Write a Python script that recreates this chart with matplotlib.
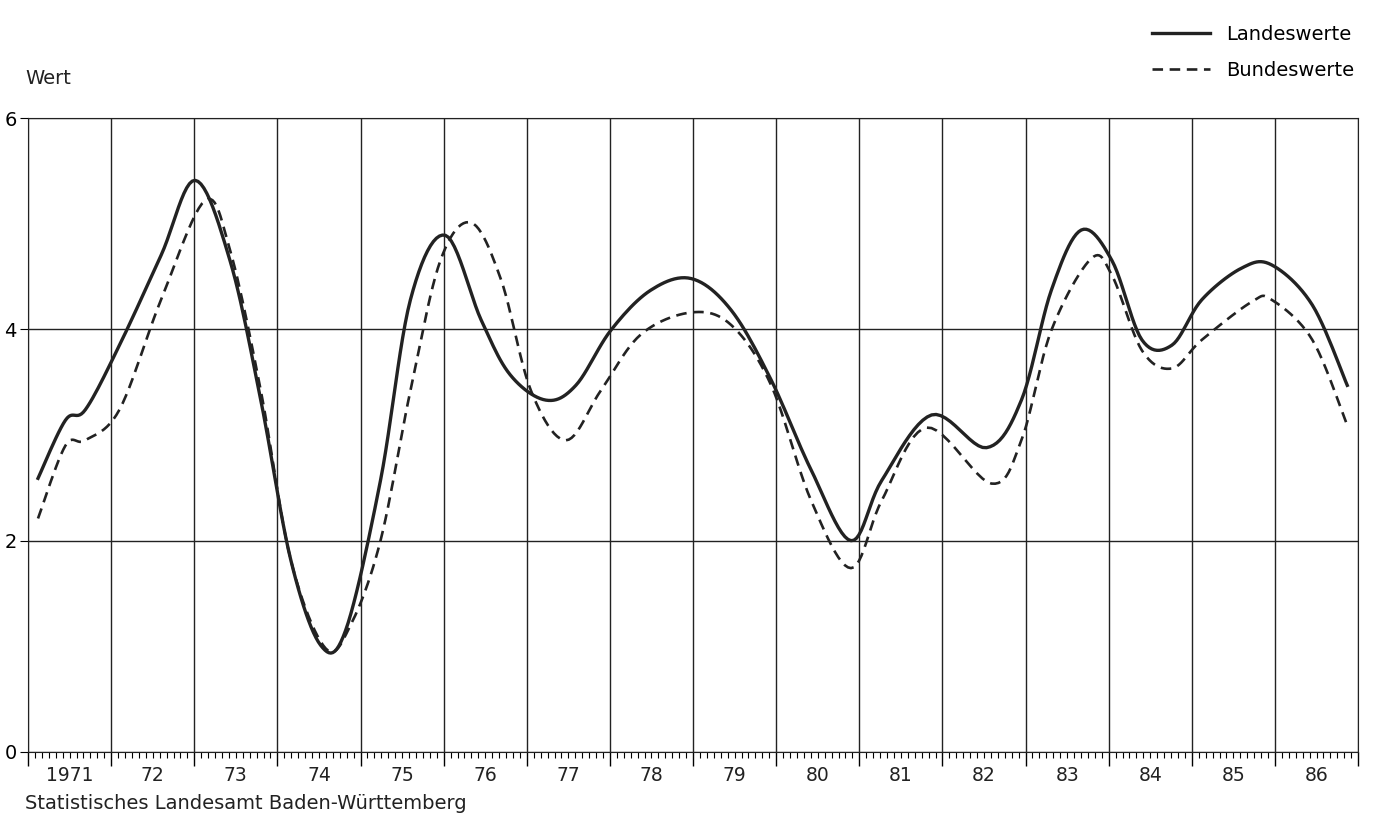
import numpy as np
import matplotlib.pyplot as plt

# (year as decimal, value)
land_t = [1971.12, 1971.45, 1971.69, 1972.1, 1972.6, 1973.01, 1973.43, 1973.8, 1974.16, 1974.52,
          1974.82, 1975.24, 1975.6, 1976.02, 1976.45, 1976.8, 1977.23, 1977.59, 1978.01, 1978.49,
          1978.98, 1979.46, 1979.94, 1980.42, 1980.9, 1981.27, 1981.87, 1982.53, 1982.95, 1983.31,
          1983.67, 1984.04, 1984.4, 1984.76, 1985.12, 1985.6, 1985.96, 1986.45, 1986.87]
land_v = [2.59, 3.14, 3.24, 3.85, 4.70, 5.41, 4.65, 3.33, 1.82, 1.01,
          1.15, 2.57, 4.28, 4.89, 4.09, 3.57, 3.33, 3.47, 3.99, 4.37,
          4.48, 4.18, 3.52, 2.67, 2.00, 2.57, 3.19, 2.88, 3.33, 4.37,
          4.94, 4.65, 3.90, 3.85, 4.28, 4.58, 4.61, 4.23, 3.47]

bund_t = [1971.12, 1971.45, 1971.69, 1972.1, 1972.6, 1973.13, 1973.43, 1973.8, 1974.16, 1974.58,
          1974.88, 1975.24, 1975.6, 1975.96, 1976.33, 1976.69, 1977.05, 1977.47, 1977.89, 1978.37,
          1978.98, 1979.46, 1979.94, 1980.42, 1980.9, 1981.27, 1981.81, 1982.59, 1982.95, 1983.31,
          1983.79, 1984.04, 1984.4, 1984.76, 1985.12, 1985.72, 1985.96, 1986.45, 1986.87]
bund_v = [2.21, 2.90, 2.95, 3.24, 4.28, 5.22, 4.75, 3.42, 1.82, 0.98,
          1.20, 2.00, 3.42, 4.65, 5.01, 4.47, 3.42, 2.95, 3.42, 3.95,
          4.16, 4.04, 3.47, 2.38, 1.74, 2.38, 3.07, 2.54, 2.95, 3.99,
          4.67, 4.51, 3.80, 3.63, 3.90, 4.26, 4.28, 3.90, 3.09]

year_labels = ['1971'] + [str(y) for y in range(72, 87)]


def smooth(t, v, n=12):
    # Catmull-Rom curve through the read points
    t = np.asarray(t); v = np.asarray(v)
    P = np.column_stack([t, v])
    P = np.vstack([P[0], P, P[-1]])
    out = []
    s = np.linspace(0, 1, n, endpoint=False)[:, None]
    for i in range(1, len(P) - 2):
        p0, p1, p2, p3 = P[i - 1], P[i], P[i + 1], P[i + 2]
        out.append(0.5 * (2 * p1 + (-p0 + p2) * s + (2 * p0 - 5 * p1 + 4 * p2 - p3) * s ** 2
                          + (-p0 + 3 * p1 - 3 * p2 + p3) * s ** 3))
    out.append(P[-2][None, :])
    out = np.vstack(out)
    return out[:, 0], out[:, 1]


plt.rcParams['font.family'] = ['DejaVu Sans']
fig = plt.figure(figsize=(13.81, 8.23), dpi=100)
ax = fig.add_axes([0.0203, 0.0863, 0.9631, 0.7703])

x, y = smooth(land_t, land_v)
ax.plot(x, y, color='#222222', lw=2.4, label='Landeswerte')
x, y = smooth(bund_t, bund_v)
ax.plot(x, y, color='#222222', lw=1.9, ls=(0, (4, 2.5)), label='Bundeswerte')

ax.set_xlim(1971, 1987)
ax.set_ylim(0, 6)
ax.set_yticks([0, 2, 4, 6])
ax.set_yticklabels(['0', '2', '4', '6'], fontsize=14)
ax.set_xticks(np.arange(1971, 1988))
ax.set_xticklabels([])
ax.set_xticks(np.arange(1971, 1987, 1 / 12), minor=True)
ax.tick_params(axis='x', which='major', direction='out', length=10, width=1)
ax.tick_params(axis='x', which='minor', direction='out', length=4, width=0.8)
ax.tick_params(axis='y', direction='out', length=6, pad=2)
for i, lab in enumerate(year_labels):
    ax.text(1971.5 + i, -0.22, lab, ha='center', va='center', fontsize=13.5, color='#222222')
ax.grid(True, which='major', color='#222222', lw=1)
for s in ax.spines.values():
    s.set_color('#222222')

fig.text(0.018, 0.905, 'Wert', fontsize=14, color='#222222', va='center')
fig.text(0.018, 0.024, 'Statistisches Landesamt Baden-Württemberg', fontsize=14,
         color='#222222', va='center')
ax.legend(loc='upper right', bbox_to_anchor=(1.01, 1.175), frameon=False, fontsize=14,
          handlelength=3, labelspacing=0.9)

fig.savefig('out.png', dpi=100, facecolor='white')
